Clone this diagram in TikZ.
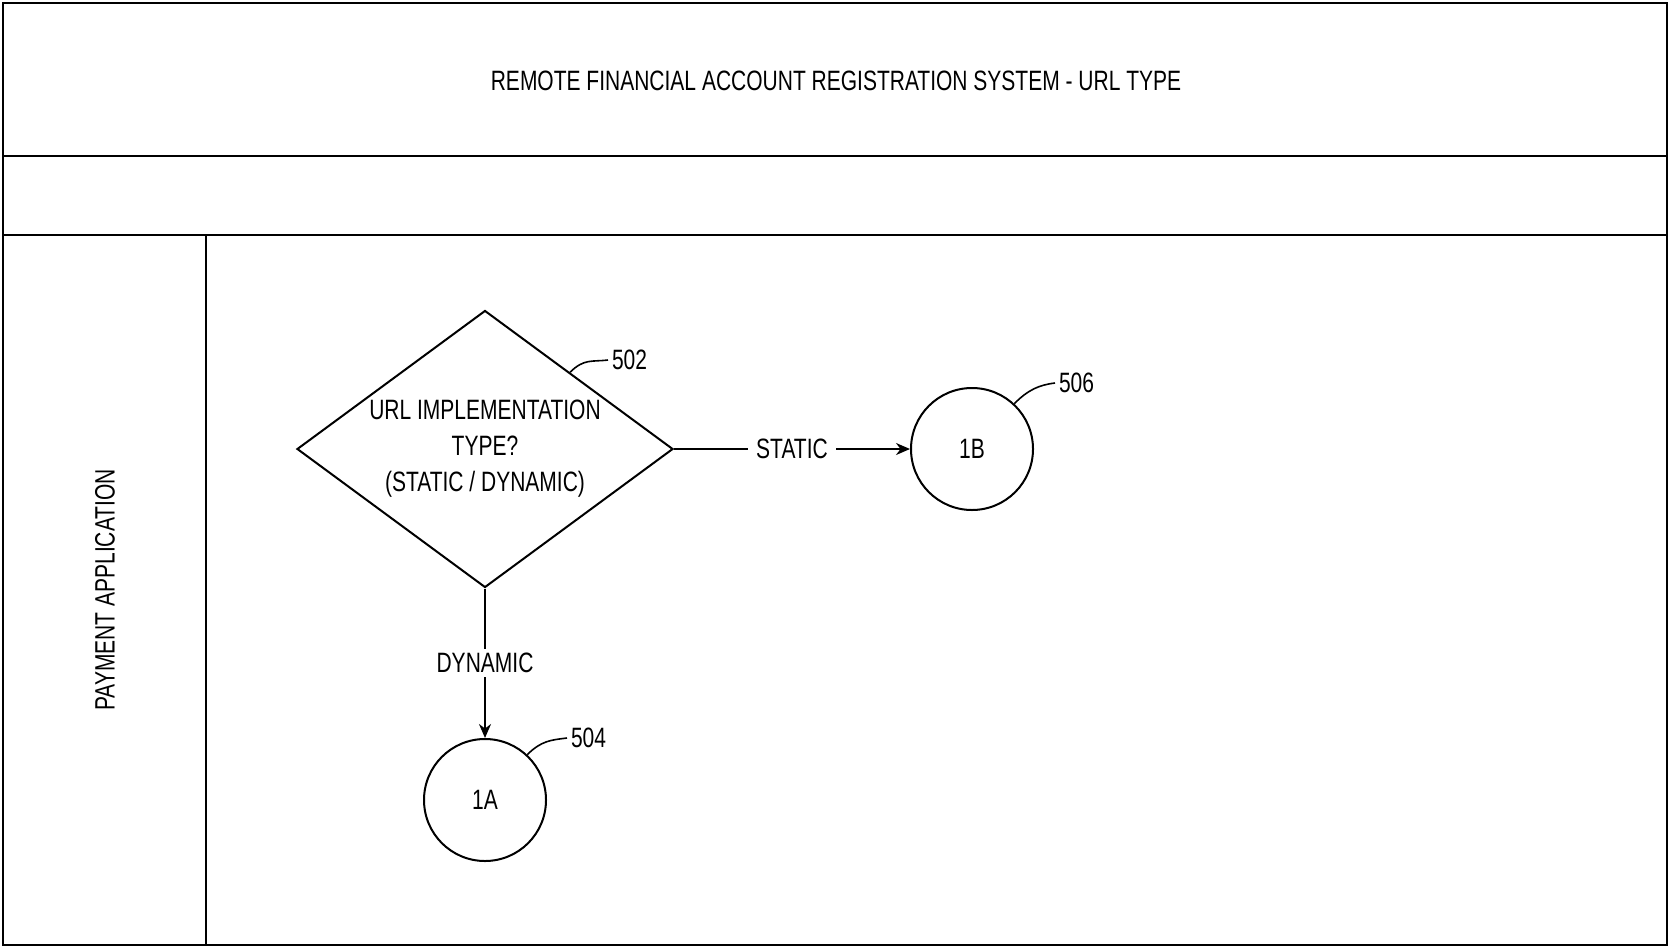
\documentclass[tikz,border=0pt]{standalone}
\usepackage{fontspec}
\setmainfont{Liberation Sans}[FakeStretch=0.75]
\usepackage{tikz}
\usetikzlibrary{positioning, arrows.meta, calc, shapes.geometric}

\begin{document}
\begin{tikzpicture}[x=0.5pt, y=-0.5pt, line width=1pt,
    every node/.style={font=\fontsize{14}{17}\selectfont},
    decision/.style={draw, diamond, aspect=1.36, minimum width=188pt, minimum height=138.5pt, inner sep=0pt, align=center, font=\fontsize{14}{18}\selectfont},
    connector/.style={draw, circle, minimum size=61pt, inner sep=0pt},
    flow/.style={-{Stealth[length=7pt, width=6pt]}},
    flowlabel/.style={fill=white, inner xsep=4pt, inner ysep=2pt},
    leader/.style={line width=0.8pt},
    refnum/.style={anchor=west, inner sep=1.5pt}]
  \useasboundingbox (0,0) rectangle (1670,948);
  % swimlane frame
  \draw (3,3) rectangle (1667,945);
  \draw (3,156) -- (1667,156);
  \draw (3,235) -- (1667,235);
  \draw (206,235) -- (206,945);
  \node (title) at (836,81) {REMOTE FINANCIAL ACCOUNT REGISTRATION SYSTEM - URL TYPE};
  \node[rotate=90] (lane) at (105,590) {PAYMENT APPLICATION};

  % flow
  \node[decision] (urltype) at (485,449) {URL IMPLEMENTATION\\TYPE?\\(STATIC / DYNAMIC)};
  \node[connector] (go1b) at (972,449) {1B};
  \node[connector] (go1a) at (485,800) {1A};
  \draw[flow] (urltype) -- node[flowlabel] (static) {STATIC} (go1b);
  \draw[flow] (urltype) -- node[flowlabel] (dynamic) {DYNAMIC} (go1a);

  % reference numerals
  \coordinate (p502) at ($(urltype.north)!0.45!(urltype.east)$);
  \node[refnum] (n502) at (608,360) {502};
  \node[refnum] (n506) at (1055,383) {506};
  \node[refnum] (n504) at (567,738) {504};
  \draw[leader] (p502) .. controls +(14,-14) and +(-16,2) .. (n502.west);
  \draw[leader] (go1b.47) .. controls +(14,-14) and +(-16,2) .. (n506.west);
  \draw[leader] (go1a.47) .. controls +(14,-14) and +(-16,2) .. (n504.west);
\end{tikzpicture}
\end{document}
